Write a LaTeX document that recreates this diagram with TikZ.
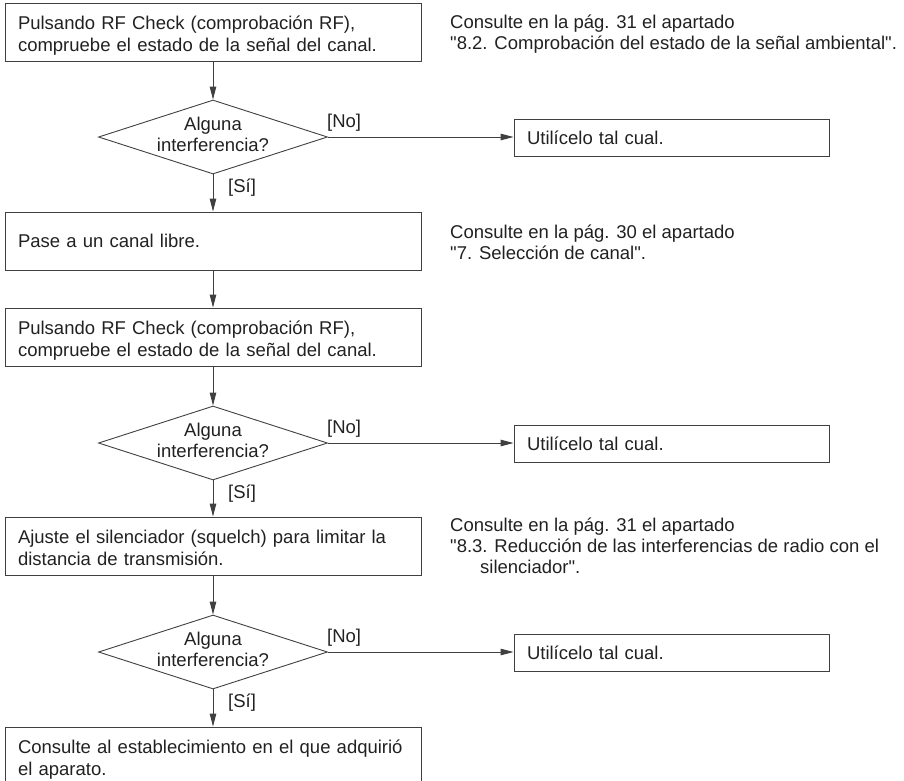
\documentclass[tikz,border=0pt]{standalone}
\usepackage{fontspec}
\setmainfont{Liberation Sans}
\usetikzlibrary{shapes.geometric,arrows.meta}
\definecolor{ink}{gray}{0.13}
\definecolor{edge}{gray}{0.25}
\newcommand\firstln{\rule{0pt}{20pt}}
\newcommand\lastln{\rule[-4pt]{0pt}{4pt}}
\newcommand\dq{\XeTeXglyph\XeTeXcharglyph34\relax}
\begin{document}
\begin{tikzpicture}[x=1pt,y=-1pt,
  txt/.style={font=\fontsize{18.5}{22}\selectfont, text=ink},
  stepbox/.style={txt, draw=edge, line width=0.9pt, rectangle, minimum width=416pt, minimum height=58pt, text width=390pt, inner xsep=13pt, inner ysep=0pt, align=left},
  decision/.style={draw=edge, line width=0.9pt, diamond, minimum width=229pt, minimum height=74pt, inner sep=0pt},
  dtext/.style={txt, font=\fontsize{18.5}{21}\selectfont, align=center, inner sep=0pt},
  outbox/.style={txt, draw=edge, line width=0.9pt, rectangle, minimum width=315pt, minimum height=37pt, text width=289pt, inner xsep=13pt, inner ysep=0pt, align=left, text height=13pt, text depth=0pt},
  note/.style={txt, font=\fontsize{18.5}{21}\selectfont, align=left, inner sep=0pt, anchor=north west},
  lbl/.style={txt, inner sep=0pt, anchor=base west},
  arr/.style={draw=edge, line width=0.9pt, -{Triangle[length=13pt,width=6.5pt]}}]
\useasboundingbox (0,0) rectangle (904,780);

% left column
\node[stepbox] (b1) at (213,32) {\firstln Pulsando RF Check (comprobación RF),\\compruebe el estado de la señal del canal.\lastln};
\node[decision] (d1) at (213,137) {};
\node[dtext, yshift=3pt] (d1t) at (d1) {Alguna\\interferencia?};
\node[outbox] (u1) at (671.5,138) {Utilícelo tal cual.};
\node[stepbox] (b2) at (213,241) {Pase a un canal libre.};
\node[stepbox] (b3) at (213,337) {\firstln Pulsando RF Check (comprobación RF),\\compruebe el estado de la señal del canal.\lastln};
\node[decision] (d2) at (213,443) {};
\node[dtext, yshift=3pt] (d2t) at (d2) {Alguna\\interferencia?};
\node[outbox] (u2) at (671.5,444) {Utilícelo tal cual.};
\node[stepbox] (b4) at (213,546) {\firstln Ajuste el silenciador (squelch) para limitar la\\distancia de transmisión.\lastln};
\node[decision] (d3) at (213,652) {};
\node[dtext, yshift=3pt] (d3t) at (d3) {Alguna\\interferencia?};
\node[outbox] (u3) at (671.5,653) {Utilícelo tal cual.};
\node[stepbox] (b5) at (213,756) {\firstln Consulte al establecimiento en el que adquirió\\el aparato.\lastln};

% notes
\node[note] (n1) at (450,11) {\rule{0pt}{17pt}Consulte en la pág. 31 el apartado\\\dq 8.2. Comprobación del estado de la señal ambiental\dq.};
\node[note] (n2) at (450,221) {\rule{0pt}{17pt}Consulte en la pág. 30 el apartado\\\dq 7. Selección de canal\dq.};
\node[note] (n3) at (450,514) {\rule{0pt}{17pt}Consulte en la pág. 31 el apartado\\\dq 8.3. Reducción de las interferencias de radio con el\\\hspace*{30pt}silenciador\dq.};

% labels
\node[lbl] (no1) at ([xshift=-1pt,yshift=10pt]d1.east) {[No]};
\node[lbl] (si1) at ([xshift=15pt,yshift=-18pt]d1.south) {[Sí]};
\node[lbl] (no2) at ([xshift=-1pt,yshift=10pt]d2.east) {[No]};
\node[lbl] (si2) at ([xshift=15pt,yshift=-18pt]d2.south) {[Sí]};
\node[lbl] (no3) at ([xshift=-1pt,yshift=10pt]d3.east) {[No]};
\node[lbl] (si3) at ([xshift=15pt,yshift=-18pt]d3.south) {[Sí]};

% connectors
\draw[arr] (b1) -- (d1);
\draw[arr] (d1) -- (b2);
\draw[arr] (d1.east) -- (d1.east -| u1.west);
\draw[arr] (b2) -- (b3);
\draw[arr] (b3) -- (d2);
\draw[arr] (d2) -- (b4);
\draw[arr] (d2.east) -- (d2.east -| u2.west);
\draw[arr] (b4) -- (d3);
\draw[arr] (d3) -- (b5);
\draw[arr] (d3.east) -- (d3.east -| u3.west);
\end{tikzpicture}
\end{document}
